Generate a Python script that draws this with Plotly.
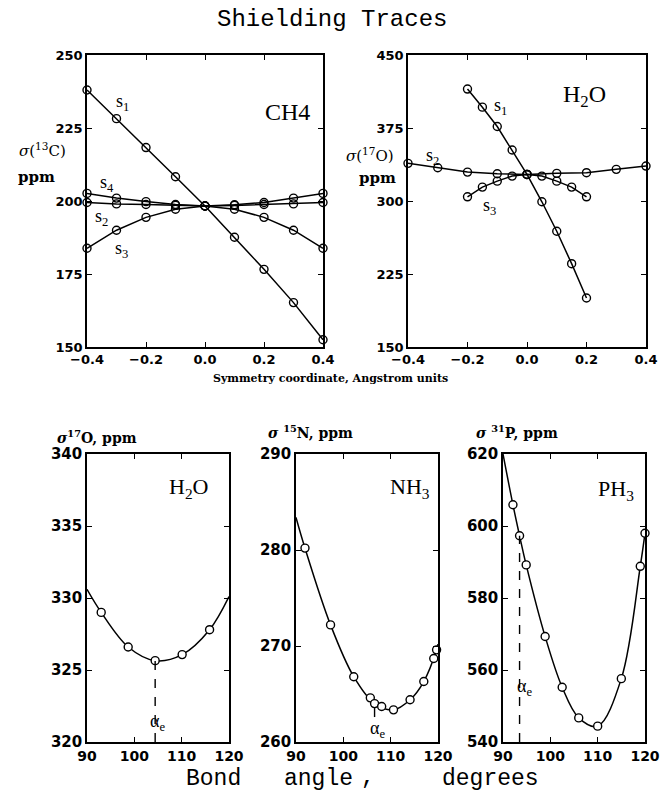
import plotly.graph_objects as go

W, H = 662, 792

# ---------------- data ----------------
ch4_x = [-0.4, -0.3, -0.2, -0.1, 0.0, 0.1, 0.2, 0.3, 0.4]
ch4_s1 = [238.0, 228.2, 218.3, 208.3, 198.3, 187.6, 176.6, 165.2, 152.5]
ch4_s2 = [199.5, 199.0, 198.8, 198.5, 198.3, 198.5, 198.8, 199.0, 199.5]
ch4_s3 = [183.8, 190.0, 194.4, 197.2, 198.3, 197.2, 194.4, 190.0, 183.8]
ch4_s4 = [202.6, 201.0, 199.8, 198.8, 198.3, 198.7, 199.5, 201.0, 202.6]

h2o_x_narrow = [-0.2, -0.15, -0.1, -0.05, 0.0, 0.05, 0.1, 0.15, 0.2]
h2o_s1 = [415.0, 396.4, 376.5, 352.4, 327.3, 299.2, 268.9, 235.6, 200.3]
h2o_s3 = [304.3, 314.3, 320.4, 325.6, 327.3, 325.6, 320.4, 314.3, 304.3]
h2o_x_wide = [-0.4, -0.3, -0.2, -0.1, 0.0, 0.1, 0.2, 0.3, 0.4]
h2o_s2 = [338.7, 334.2, 329.7, 328.0, 327.3, 328.4, 329.1, 332.5, 335.9]

top_xticks = [-0.4, -0.2, 0.0, 0.2, 0.4]
ch4_yticks = [150, 175, 200, 225, 250]
h2o_yticks = [150, 225, 300, 375, 450]

# bond-angle panels: computed points and smooth curve
ang_h2o_pts_x = [93.0, 98.7, 104.4, 110.1, 115.9]
ang_h2o_pts_y = [329.0, 326.6, 325.65, 326.07, 327.8]
ang_h2o_curve_x = [90.0, 93.0, 98.7, 104.4, 110.1, 115.9, 120.0]
ang_h2o_curve_y = [330.6, 329.0, 326.6, 325.65, 326.07, 327.8, 330.1]
ang_h2o_ae = 104.4

nh3_pts_x = [91.9, 97.3, 102.2, 105.7, 106.6, 108.1, 110.6, 114.1, 117.0, 119.1, 119.7]
nh3_pts_y = [280.2, 272.2, 266.8, 264.6, 264.0, 263.7, 263.35, 264.4, 266.3, 268.7, 269.6]
nh3_curve_x = [90.0, 91.9, 97.3, 102.2, 106.6, 110.6, 114.1, 117.0, 119.7, 120.0]
nh3_curve_y = [283.4, 280.2, 272.2, 266.8, 264.0, 263.35, 264.4, 266.3, 269.6, 270.2]
nh3_ae = 106.6

ph3_pts_x = [92.1, 93.5, 94.9, 98.9, 102.5, 106.0, 110.0, 115.0, 119.0, 120.0]
ph3_pts_y = [605.9, 597.3, 589.2, 569.3, 555.2, 546.7, 544.4, 557.6, 588.8, 598.0]
ph3_curve_x = [90.0, 92.1, 93.5, 94.9, 98.9, 102.5, 106.0, 110.0, 115.0, 119.0, 120.0]
ph3_curve_y = [620.0, 605.9, 597.3, 589.2, 569.3, 555.2, 546.7, 544.4, 557.6, 588.8, 598.0]
ph3_ae = 93.5

ang_xticks = [90, 100, 110, 120]
ang_h2o_yticks = [320, 325, 330, 335, 340]
nh3_yticks = [260, 270, 280, 290]
ph3_yticks = [540, 560, 580, 600, 620]

# ---------------- helpers ----------------
def px_x(x):
    return x / W

def px_y(y):
    return 1 - y / H

BLACK = "black"
mk = dict(symbol="circle-open", size=8, color=BLACK, line=dict(width=1.4, color=BLACK))

fig = go.Figure()

def add_line_pts(x, y, ax):
    fig.add_trace(go.Scatter(x=x, y=y, mode="lines+markers", xaxis="x" + ax, yaxis="y" + ax,
                             line=dict(color=BLACK, width=1.5), marker=mk, cliponaxis=False,
                             showlegend=False, hoverinfo="skip"))

for s in (ch4_s1, ch4_s2, ch4_s3, ch4_s4):
    add_line_pts(ch4_x, s, "")
add_line_pts(h2o_x_narrow, h2o_s1, "2")
add_line_pts(h2o_x_wide, h2o_s2, "2")
add_line_pts(h2o_x_narrow, h2o_s3, "2")

def add_curve(cx, cy, px, py, ax):
    fig.add_trace(go.Scatter(x=cx, y=cy, mode="lines", xaxis="x" + ax, yaxis="y" + ax,
                             line=dict(color=BLACK, width=1.5, shape="spline", smoothing=1.0),
                             showlegend=False, hoverinfo="skip"))
    fig.add_trace(go.Scatter(x=px, y=py, mode="markers", xaxis="x" + ax, yaxis="y" + ax,
                             marker=dict(symbol="circle", size=8, color="white",
                                         line=dict(width=1.4, color=BLACK)),
                             cliponaxis=False, showlegend=False, hoverinfo="skip"))

add_curve(ang_h2o_curve_x, ang_h2o_curve_y, ang_h2o_pts_x, ang_h2o_pts_y, "3")
add_curve(nh3_curve_x, nh3_curve_y, nh3_pts_x, nh3_pts_y, "4")
add_curve(ph3_curve_x, ph3_curve_y, ph3_pts_x, ph3_pts_y, "5")

# ---------------- axes ----------------
def xax(dom, rng, ticks, anchor, size, fmt=None):
    d = dict(domain=dom, range=rng, tickvals=ticks, anchor=anchor, automargin=False,
             showline=True, linecolor=BLACK, linewidth=1.5, mirror="ticks",
             ticks="inside", ticklen=5, tickwidth=1.3, tickcolor=BLACK,
             showgrid=False, zeroline=False,
             tickfont=dict(family="DejaVu Sans", size=size, color=BLACK, weight="bold"))
    if fmt:
        d["tickformat"] = fmt
    return d

def yax(dom, rng, ticks, anchor, size):
    return dict(domain=dom, range=rng, tickvals=ticks, anchor=anchor, automargin=False,
                showline=True, linecolor=BLACK, linewidth=1.5, mirror="ticks",
                ticks="inside", ticklen=5, tickwidth=1.3, tickcolor=BLACK,
                showgrid=False, zeroline=False,
                tickfont=dict(family="DejaVu Sans", size=size, color=BLACK, weight="bold"))

top_dom_y = [px_y(347), px_y(55)]
bot_dom_y = [px_y(742), px_y(454)]

fig.update_layout(
    template="none",
    xaxis=xax([px_x(87), px_x(323)], [-0.4, 0.4], top_xticks, "y", 13, ".1f"),
    yaxis=yax(top_dom_y, [150, 250], ch4_yticks, "x", 13),
    xaxis2=xax([px_x(408), px_x(646)], [-0.4, 0.4], top_xticks, "y2", 13, ".1f"),
    yaxis2=yax(top_dom_y, [150, 450], h2o_yticks, "x2", 13),
    xaxis3=xax([px_x(87), px_x(229)], [90, 120], ang_xticks, "y3", 14),
    yaxis3=yax(bot_dom_y, [320, 340], ang_h2o_yticks, "x3", 15),
    xaxis4=xax([px_x(296), px_x(438)], [90, 120], ang_xticks, "y4", 14),
    yaxis4=yax(bot_dom_y, [260, 290], nh3_yticks, "x4", 15),
    xaxis5=xax([px_x(503), px_x(645)], [90, 120], ang_xticks, "y5", 14),
    yaxis5=yax(bot_dom_y, [540, 620], ph3_yticks, "x5", 15),
)

# dashed alpha_e lines
for ax, xv, y0, y1 in (("3", ang_h2o_ae, 320, 325.65), ("4", nh3_ae, 262.6, 263.9), ("5", ph3_ae, 540, 597.3)):
    fig.add_shape(type="line", xref="x" + ax, yref="y" + ax, x0=xv, x1=xv, y0=y0, y1=y1,
                  line=dict(color=BLACK, width=1.4, dash="dash"))

# ---------------- text ----------------
def ann(text, x, y, fam, size, bold=False, xanchor="center"):
    fig.add_annotation(text=text, x=px_x(x), y=px_y(y), xref="paper", yref="paper",
                       showarrow=False, xanchor=xanchor, yanchor="middle",
                       font=dict(family=fam, size=size, color=BLACK,
                                 weight="bold" if bold else "normal"))

MONO = "Liberation Mono"
SERIF = "DejaVu Serif"
LSERIF = "Liberation Serif"

ann("Shielding Traces", 332, 19, MONO, 24)
ann("Symmetry coordinate, Angstrom units", 330, 378, SERIF, 11, bold=True)
ann("Bond", 214, 779, MONO, 23)
ann("angle", 318, 779, MONO, 23)
ann(",", 368, 778, MONO, 23)
ann("degrees", 490, 779, MONO, 23)

# y labels
ann("<i>σ</i>(<sup>13</sup>C)", 42, 150, SERIF, 15)
ann("ppm", 36, 177, SERIF, 15, bold=True)
ann("<i>σ</i>(<sup>17</sup>O)", 370, 155, SERIF, 15)
ann("ppm", 377, 178, SERIF, 15, bold=True)
ann("<i>σ</i><sup>17</sup>O, ppm", 97, 437, SERIF, 14, bold=True)
ann("<i>σ</i> <sup>15</sup>N, ppm", 310, 432, SERIF, 14, bold=True)
ann("<i>σ</i> <sup>31</sup>P, ppm", 517, 432, SERIF, 14, bold=True)

# series labels
ann("s<sub>1</sub>", 122, 102, LSERIF, 18)
ann("CH4", 287, 112, LSERIF, 24)
ann("s<sub>4</sub>", 107, 184, LSERIF, 18)
ann("s<sub>2</sub>", 101, 217, LSERIF, 18)
ann("s<sub>3</sub>", 121, 250, LSERIF, 18)
ann("s<sub>1</sub>", 500, 106, LSERIF, 18)
ann("H<sub>2</sub>O", 584, 96, LSERIF, 24)
ann("s<sub>2</sub>", 432, 156, LSERIF, 18)
ann("s<sub>3</sub>", 489, 206, LSERIF, 18)

ann("H<sub>2</sub>O", 188, 488, LSERIF, 22)
ann("NH<sub>3</sub>", 410, 488, LSERIF, 22)
ann("PH<sub>3</sub>", 616, 490, LSERIF, 22)
ann("α<sub>e</sub>", 157, 722, LSERIF, 18)
ann("α<sub>e</sub>", 377, 729, LSERIF, 18)
ann("α<sub>e</sub>", 524, 687, LSERIF, 18)

fig.update_layout(width=W, height=H, margin=dict(l=0, r=0, t=0, b=0),
                  plot_bgcolor="white", paper_bgcolor="white", showlegend=False)

fig.write_html("out.html", config={"displayModeBar": False},
               post_script="document.body.style.margin='0px';document.body.style.overflow='hidden';")
